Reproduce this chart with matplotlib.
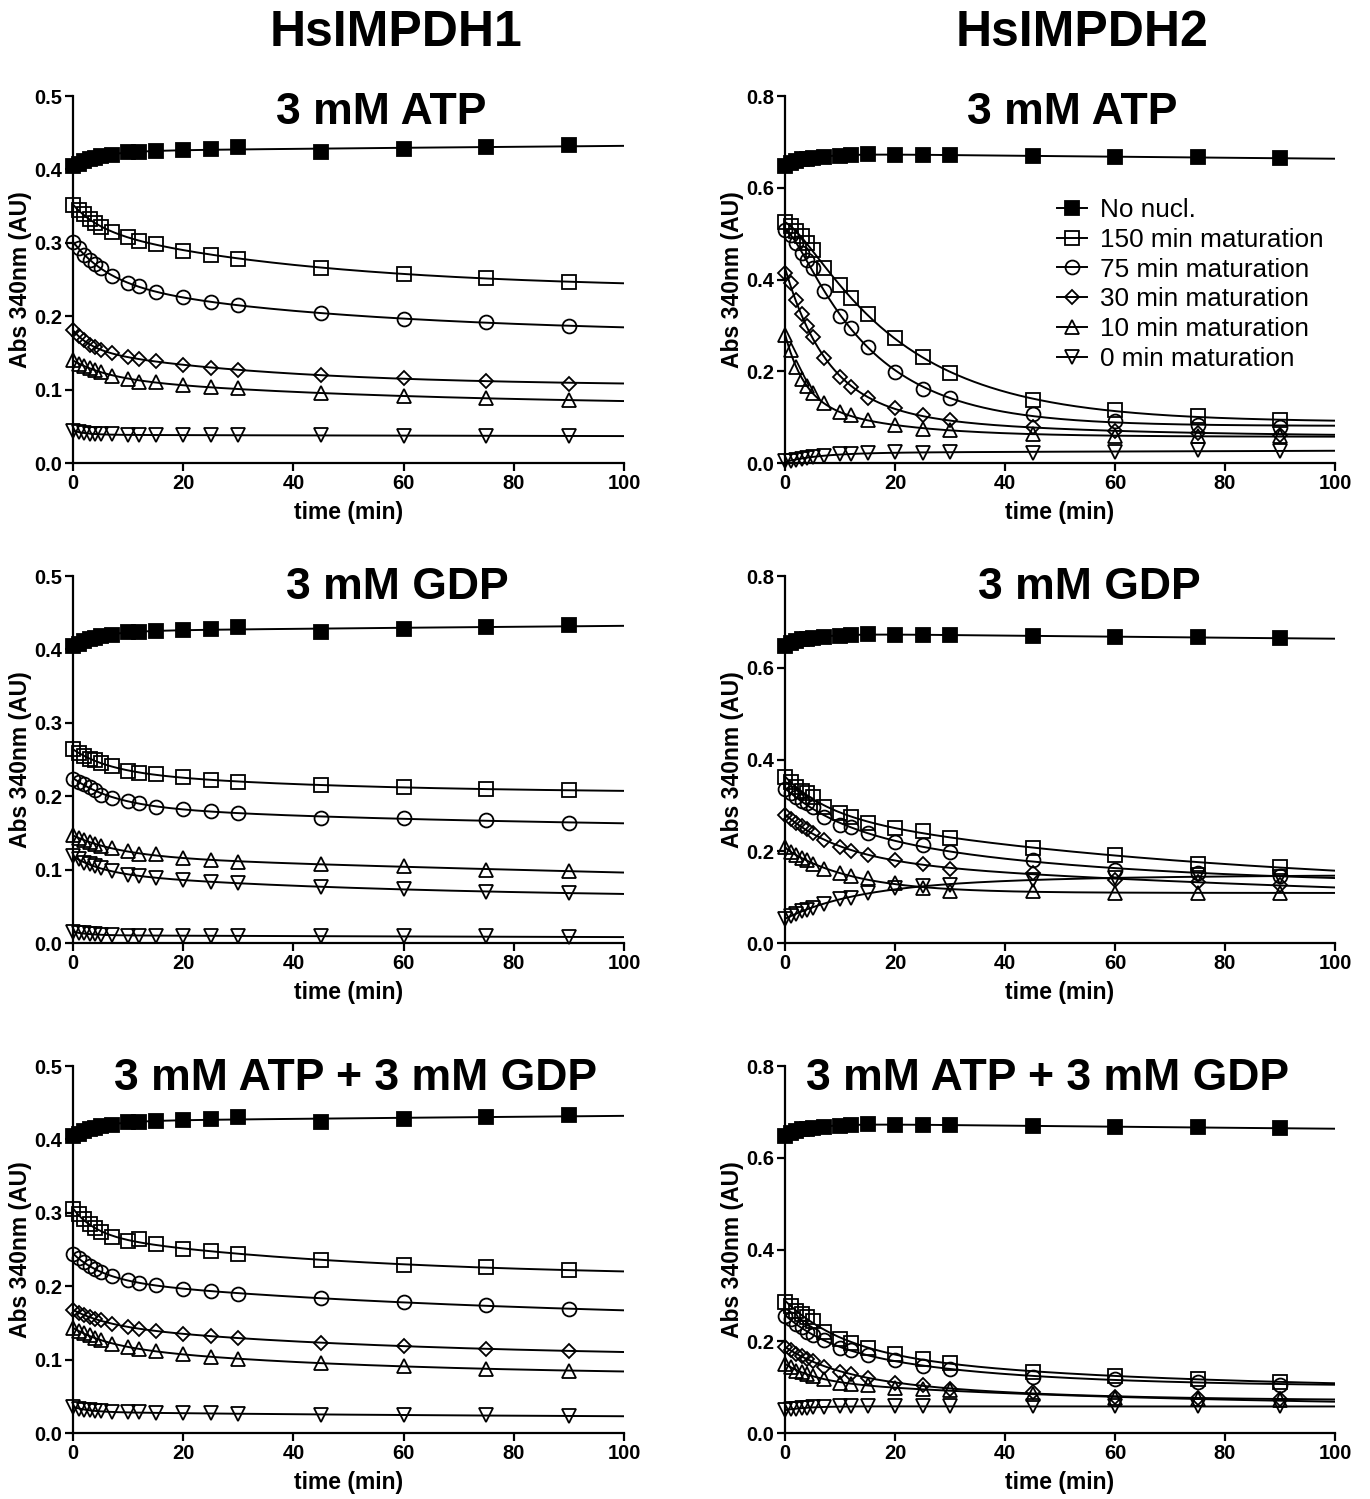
import numpy as np
import matplotlib.pyplot as plt
from matplotlib.lines import Line2D

plt.rcParams['font.family'] = ['Liberation Sans', 'DejaVu Sans']

# sampling times (min)
t_min = [0, 1, 2, 3, 4, 5, 7, 10, 12, 15, 20, 25, 30, 45, 60, 75, 90]

series_labels = ["No nucl.", "150 min maturation", "75 min maturation",
                 "30 min maturation", "10 min maturation", "0 min maturation"]

# no-nucleotide controls (same run shown in each row)
h1_no_nucl = [0.405, 0.408, 0.411, 0.414, 0.416, 0.418, 0.420, 0.424, 0.424,
              0.425, 0.427, 0.428, 0.430, 0.424, 0.428, 0.430, 0.434]
h2_no_nucl = [0.648, 0.654, 0.658, 0.662, 0.663, 0.665, 0.667, 0.670, 0.672,
              0.673, 0.672, 0.672, 0.672, 0.670, 0.667, 0.667, 0.664]

# HsIMPDH1, 3 mM ATP
h1_atp_150 = [0.351, 0.345, 0.339, 0.332, 0.327, 0.322, 0.315, 0.308, 0.303,
              0.299, 0.289, 0.284, 0.278, 0.266, 0.258, 0.252, 0.247]
h1_atp_75 = [0.301, 0.293, 0.284, 0.277, 0.271, 0.266, 0.255, 0.245, 0.241,
             0.233, 0.226, 0.220, 0.215, 0.204, 0.196, 0.192, 0.187]
h1_atp_30 = [0.181, 0.173, 0.167, 0.161, 0.158, 0.154, 0.150, 0.144, 0.142,
             0.139, 0.133, 0.130, 0.127, 0.120, 0.116, 0.112, 0.108]
h1_atp_10 = [0.140, 0.135, 0.132, 0.130, 0.127, 0.124, 0.119, 0.115, 0.111,
             0.111, 0.106, 0.103, 0.102, 0.095, 0.091, 0.088, 0.086]
h1_atp_0 = [0.044, 0.042, 0.041, 0.040, 0.040, 0.039, 0.039, 0.038, 0.038,
            0.038, 0.038, 0.038, 0.038, 0.038, 0.037, 0.037, 0.037]

# HsIMPDH2, 3 mM ATP
h2_atp_150 = [0.525, 0.516, 0.505, 0.494, 0.479, 0.465, 0.425, 0.388, 0.359,
              0.326, 0.272, 0.232, 0.197, 0.138, 0.115, 0.102, 0.093]
h2_atp_75 = [0.509, 0.498, 0.479, 0.459, 0.443, 0.425, 0.374, 0.321, 0.294,
             0.254, 0.199, 0.162, 0.141, 0.108, 0.092, 0.084, 0.079]
h2_atp_30 = [0.415, 0.393, 0.356, 0.326, 0.299, 0.274, 0.230, 0.188, 0.166,
             0.141, 0.119, 0.104, 0.093, 0.079, 0.070, 0.066, 0.062]
h2_atp_10 = [0.279, 0.246, 0.210, 0.184, 0.168, 0.153, 0.131, 0.111, 0.104,
             0.093, 0.082, 0.075, 0.071, 0.064, 0.060, 0.058, 0.058]
h2_atp_0 = [0.004, 0.005, 0.007, 0.009, 0.012, 0.013, 0.015, 0.019, 0.020,
            0.022, 0.024, 0.022, 0.025, 0.022, 0.024, 0.028, 0.026]

# HsIMPDH1, 3 mM GDP
h1_gdp_150 = [0.264, 0.259, 0.255, 0.251, 0.249, 0.245, 0.241, 0.234, 0.232,
              0.230, 0.226, 0.222, 0.220, 0.215, 0.212, 0.210, 0.208]
h1_gdp_75 = [0.224, 0.220, 0.216, 0.212, 0.209, 0.202, 0.198, 0.193, 0.191,
             0.186, 0.182, 0.180, 0.177, 0.171, 0.170, 0.167, 0.164]
h1_gdp_10 = [0.147, 0.143, 0.140, 0.138, 0.135, 0.132, 0.129, 0.125, 0.121,
             0.121, 0.116, 0.113, 0.111, 0.107, 0.105, 0.100, 0.098]
h1_gdp_30 = [0.118, 0.114, 0.109, 0.107, 0.105, 0.102, 0.098, 0.093, 0.091,
             0.089, 0.086, 0.083, 0.082, 0.077, 0.073, 0.070, 0.068]
h1_gdp_0 = [0.015, 0.014, 0.013, 0.012, 0.012, 0.011, 0.011, 0.010, 0.010,
            0.010, 0.010, 0.010, 0.010, 0.009, 0.009, 0.009, 0.008]

# HsIMPDH2, 3 mM GDP
h2_gdp_150 = [0.361, 0.350, 0.341, 0.332, 0.326, 0.318, 0.297, 0.283, 0.274,
              0.262, 0.250, 0.245, 0.230, 0.208, 0.192, 0.173, 0.166]
h2_gdp_75 = [0.335, 0.326, 0.318, 0.310, 0.305, 0.297, 0.274, 0.257, 0.254,
             0.239, 0.221, 0.213, 0.199, 0.181, 0.160, 0.153, 0.146]
h2_gdp_30 = [0.279, 0.270, 0.261, 0.255, 0.248, 0.239, 0.224, 0.210, 0.201,
             0.192, 0.181, 0.173, 0.162, 0.153, 0.137, 0.133, 0.126]
h2_gdp_10 = [0.210, 0.199, 0.192, 0.186, 0.181, 0.173, 0.162, 0.152, 0.146,
             0.141, 0.131, 0.119, 0.113, 0.114, 0.110, 0.110, 0.110]
h2_gdp_0 = [0.053, 0.058, 0.064, 0.070, 0.073, 0.077, 0.086, 0.095, 0.099,
            0.108, 0.121, 0.124, 0.126, 0.137, 0.141, 0.148, 0.144]

# HsIMPDH1, 3 mM ATP + 3 mM GDP
h1_mix_150 = [0.305, 0.298, 0.291, 0.285, 0.279, 0.274, 0.267, 0.261, 0.264,
              0.257, 0.251, 0.248, 0.244, 0.236, 0.229, 0.226, 0.222]
h1_mix_75 = [0.244, 0.238, 0.233, 0.228, 0.223, 0.219, 0.214, 0.208, 0.205,
             0.202, 0.196, 0.193, 0.190, 0.184, 0.178, 0.174, 0.169]
h1_mix_30 = [0.168, 0.163, 0.161, 0.158, 0.156, 0.154, 0.149, 0.144, 0.142,
             0.139, 0.135, 0.132, 0.130, 0.123, 0.118, 0.115, 0.112]
h1_mix_10 = [0.143, 0.139, 0.136, 0.133, 0.129, 0.127, 0.121, 0.117, 0.115,
             0.112, 0.108, 0.103, 0.101, 0.095, 0.092, 0.087, 0.085]
h1_mix_0 = [0.036, 0.033, 0.032, 0.031, 0.030, 0.030, 0.029, 0.028, 0.028,
            0.027, 0.027, 0.027, 0.026, 0.025, 0.025, 0.024, 0.023]

# HsIMPDH2, 3 mM ATP + 3 mM GDP
h2_mix_150 = [0.285, 0.278, 0.267, 0.260, 0.252, 0.245, 0.221, 0.205, 0.197,
              0.185, 0.173, 0.162, 0.153, 0.133, 0.124, 0.117, 0.112]
h2_mix_75 = [0.256, 0.249, 0.238, 0.231, 0.221, 0.213, 0.202, 0.185, 0.180,
             0.170, 0.160, 0.147, 0.140, 0.122, 0.117, 0.112, 0.105]
h2_mix_30 = [0.187, 0.180, 0.173, 0.168, 0.162, 0.158, 0.144, 0.134, 0.129,
             0.120, 0.110, 0.104, 0.096, 0.089, 0.078, 0.076, 0.075]
h2_mix_10 = [0.151, 0.144, 0.136, 0.133, 0.129, 0.125, 0.118, 0.110, 0.107,
             0.104, 0.098, 0.096, 0.093, 0.086, 0.076, 0.075, 0.071]
h2_mix_0 = [0.050, 0.052, 0.053, 0.054, 0.055, 0.056, 0.057, 0.058, 0.058,
            0.058, 0.058, 0.058, 0.058, 0.058, 0.058, 0.058, 0.058]

MARKERS = {"sq": ("s", 9.5), "sqo": ("s", 9.5), "o": ("o", 10), "D": ("D", 7.5),
           "^": ("^", 10.5), "v": ("v", 10.5)}


def two_phase_fit(t, y, t_fine):
    """Least-squares two-phase exponential (grid over rate constants)."""
    t = np.asarray(t, float)
    y = np.asarray(y, float)
    ks = np.geomspace(0.003, 3.0, 45)
    best_err, best = np.inf, None
    for i, k1 in enumerate(ks):
        for k2 in ks[i:]:
            A = np.column_stack([np.ones_like(t), np.exp(-k1 * t), np.exp(-k2 * t)])
            coef = np.linalg.lstsq(A, y, rcond=None)[0]
            err = np.sum((A @ coef - y) ** 2)
            if err < best_err:
                best_err, best = err, (k1, k2, coef)
    k1, k2, c = best
    return c[0] + c[1] * np.exp(-k1 * t_fine) + c[2] * np.exp(-k2 * t_fine)


def draw_panel(ax, series, title, title_pos, ymax, ystep):
    t_fine = np.linspace(0, 100, 400)
    for values, key in series:
        marker, ms = MARKERS[key]
        filled = key == "sq"
        ax.plot(t_fine, two_phase_fit(t_min, values, t_fine), color="black",
                lw=1.4, zorder=2)
        ax.plot(t_min, values, linestyle="none", marker=marker, markersize=ms,
                markeredgewidth=1.3, markeredgecolor="black",
                markerfacecolor="black" if filled else "none",
                clip_on=False, zorder=3)

    ax.set_xlim(0, 100)
    ax.set_ylim(0, ymax)
    ax.set_xticks(np.arange(0, 101, 20))
    ax.set_yticks(np.arange(0, ymax + 1e-9, ystep))
    ax.yaxis.set_major_formatter(plt.FormatStrFormatter("%.1f"))
    for side in ("top", "right"):
        ax.spines[side].set_visible(False)
    for side in ("left", "bottom"):
        ax.spines[side].set_linewidth(1.6)
    ax.tick_params(direction="out", length=6, width=1.6, pad=2,
                   labelsize=14.5)
    for lab in ax.get_xticklabels() + ax.get_yticklabels():
        lab.set_fontweight("bold")

    ax.set_xlabel("time (min)", fontsize=16.5, fontweight="bold", va="center")
    ax.set_ylabel("Abs 340nm (AU)", fontsize=16.5, fontweight="bold", va="center")
    ax.xaxis.set_label_coords(0.5, -0.136)
    ax.yaxis.set_label_coords(-0.096, 0.5)
    ax.text(title_pos[0], title_pos[1], title, transform=ax.transAxes,
            ha="center", va="center", fontsize=32, fontweight="bold")


fig = plt.figure(figsize=(13.7, 14.99), dpi=100)

col_left = [0.0533, 0.5730]
col_width = [0.4022, 0.4015]
row_bottom = [0.6911, 0.3709, 0.0440]
row_height = 0.2448

axes = [[fig.add_axes([col_left[c], row_bottom[r], col_width[c], row_height])
         for c in range(2)] for r in range(3)]

draw_panel(axes[0][0],
           [(h1_no_nucl, "sq"), (h1_atp_150, "sqo"), (h1_atp_75, "o"),
            (h1_atp_30, "D"), (h1_atp_10, "^"), (h1_atp_0, "v")],
           "3 mM ATP", (0.559, 0.955), 0.5, 0.1)
draw_panel(axes[0][1],
           [(h2_no_nucl, "sq"), (h2_atp_150, "sqo"), (h2_atp_75, "o"),
            (h2_atp_30, "D"), (h2_atp_10, "^"), (h2_atp_0, "v")],
           "3 mM ATP", (0.522, 0.955), 0.8, 0.2)
draw_panel(axes[1][0],
           [(h1_no_nucl, "sq"), (h1_gdp_150, "sqo"), (h1_gdp_75, "o"),
            (h1_gdp_10, "^"), (h1_gdp_30, "v"), (h1_gdp_0, "v")],
           "3 mM GDP", (0.588, 0.970), 0.5, 0.1)
draw_panel(axes[1][1],
           [(h2_no_nucl, "sq"), (h2_gdp_150, "sqo"), (h2_gdp_75, "o"),
            (h2_gdp_30, "D"), (h2_gdp_10, "^"), (h2_gdp_0, "v")],
           "3 mM GDP", (0.553, 0.970), 0.8, 0.2)
draw_panel(axes[2][0],
           [(h1_no_nucl, "sq"), (h1_mix_150, "sqo"), (h1_mix_75, "o"),
            (h1_mix_30, "D"), (h1_mix_10, "^"), (h1_mix_0, "v")],
           "3 mM ATP + 3 mM GDP", (0.512, 0.967), 0.5, 0.1)
draw_panel(axes[2][1],
           [(h2_no_nucl, "sq"), (h2_mix_150, "sqo"), (h2_mix_75, "o"),
            (h2_mix_30, "D"), (h2_mix_10, "^"), (h2_mix_0, "v")],
           "3 mM ATP + 3 mM GDP", (0.478, 0.967), 0.8, 0.2)

# legend with line-through-marker handles
handles = []
for key in ["sq", "sqo", "o", "D", "^", "v"]:
    marker, ms = MARKERS[key]
    handles.append(Line2D([], [], color="black", lw=1.4, marker=marker,
                          markersize=ms, markeredgewidth=1.3,
                          markeredgecolor="black",
                          markerfacecolor="black" if key == "sq" else "none"))
axes[0][1].legend(handles, series_labels, loc="upper left",
                  bbox_to_anchor=(0.495, 0.722), frameon=False, fontsize=18.8,
                  handlelength=1.15, handletextpad=0.5, labelspacing=0.22,
                  borderaxespad=0, borderpad=0)

fig.text(0.289, 0.978, "HsIMPDH1", ha="center", va="center", fontsize=36,
         fontweight="bold")
fig.text(0.790, 0.978, "HsIMPDH2", ha="center", va="center", fontsize=36,
         fontweight="bold")

fig.savefig("out.png", dpi=100, facecolor="white")
